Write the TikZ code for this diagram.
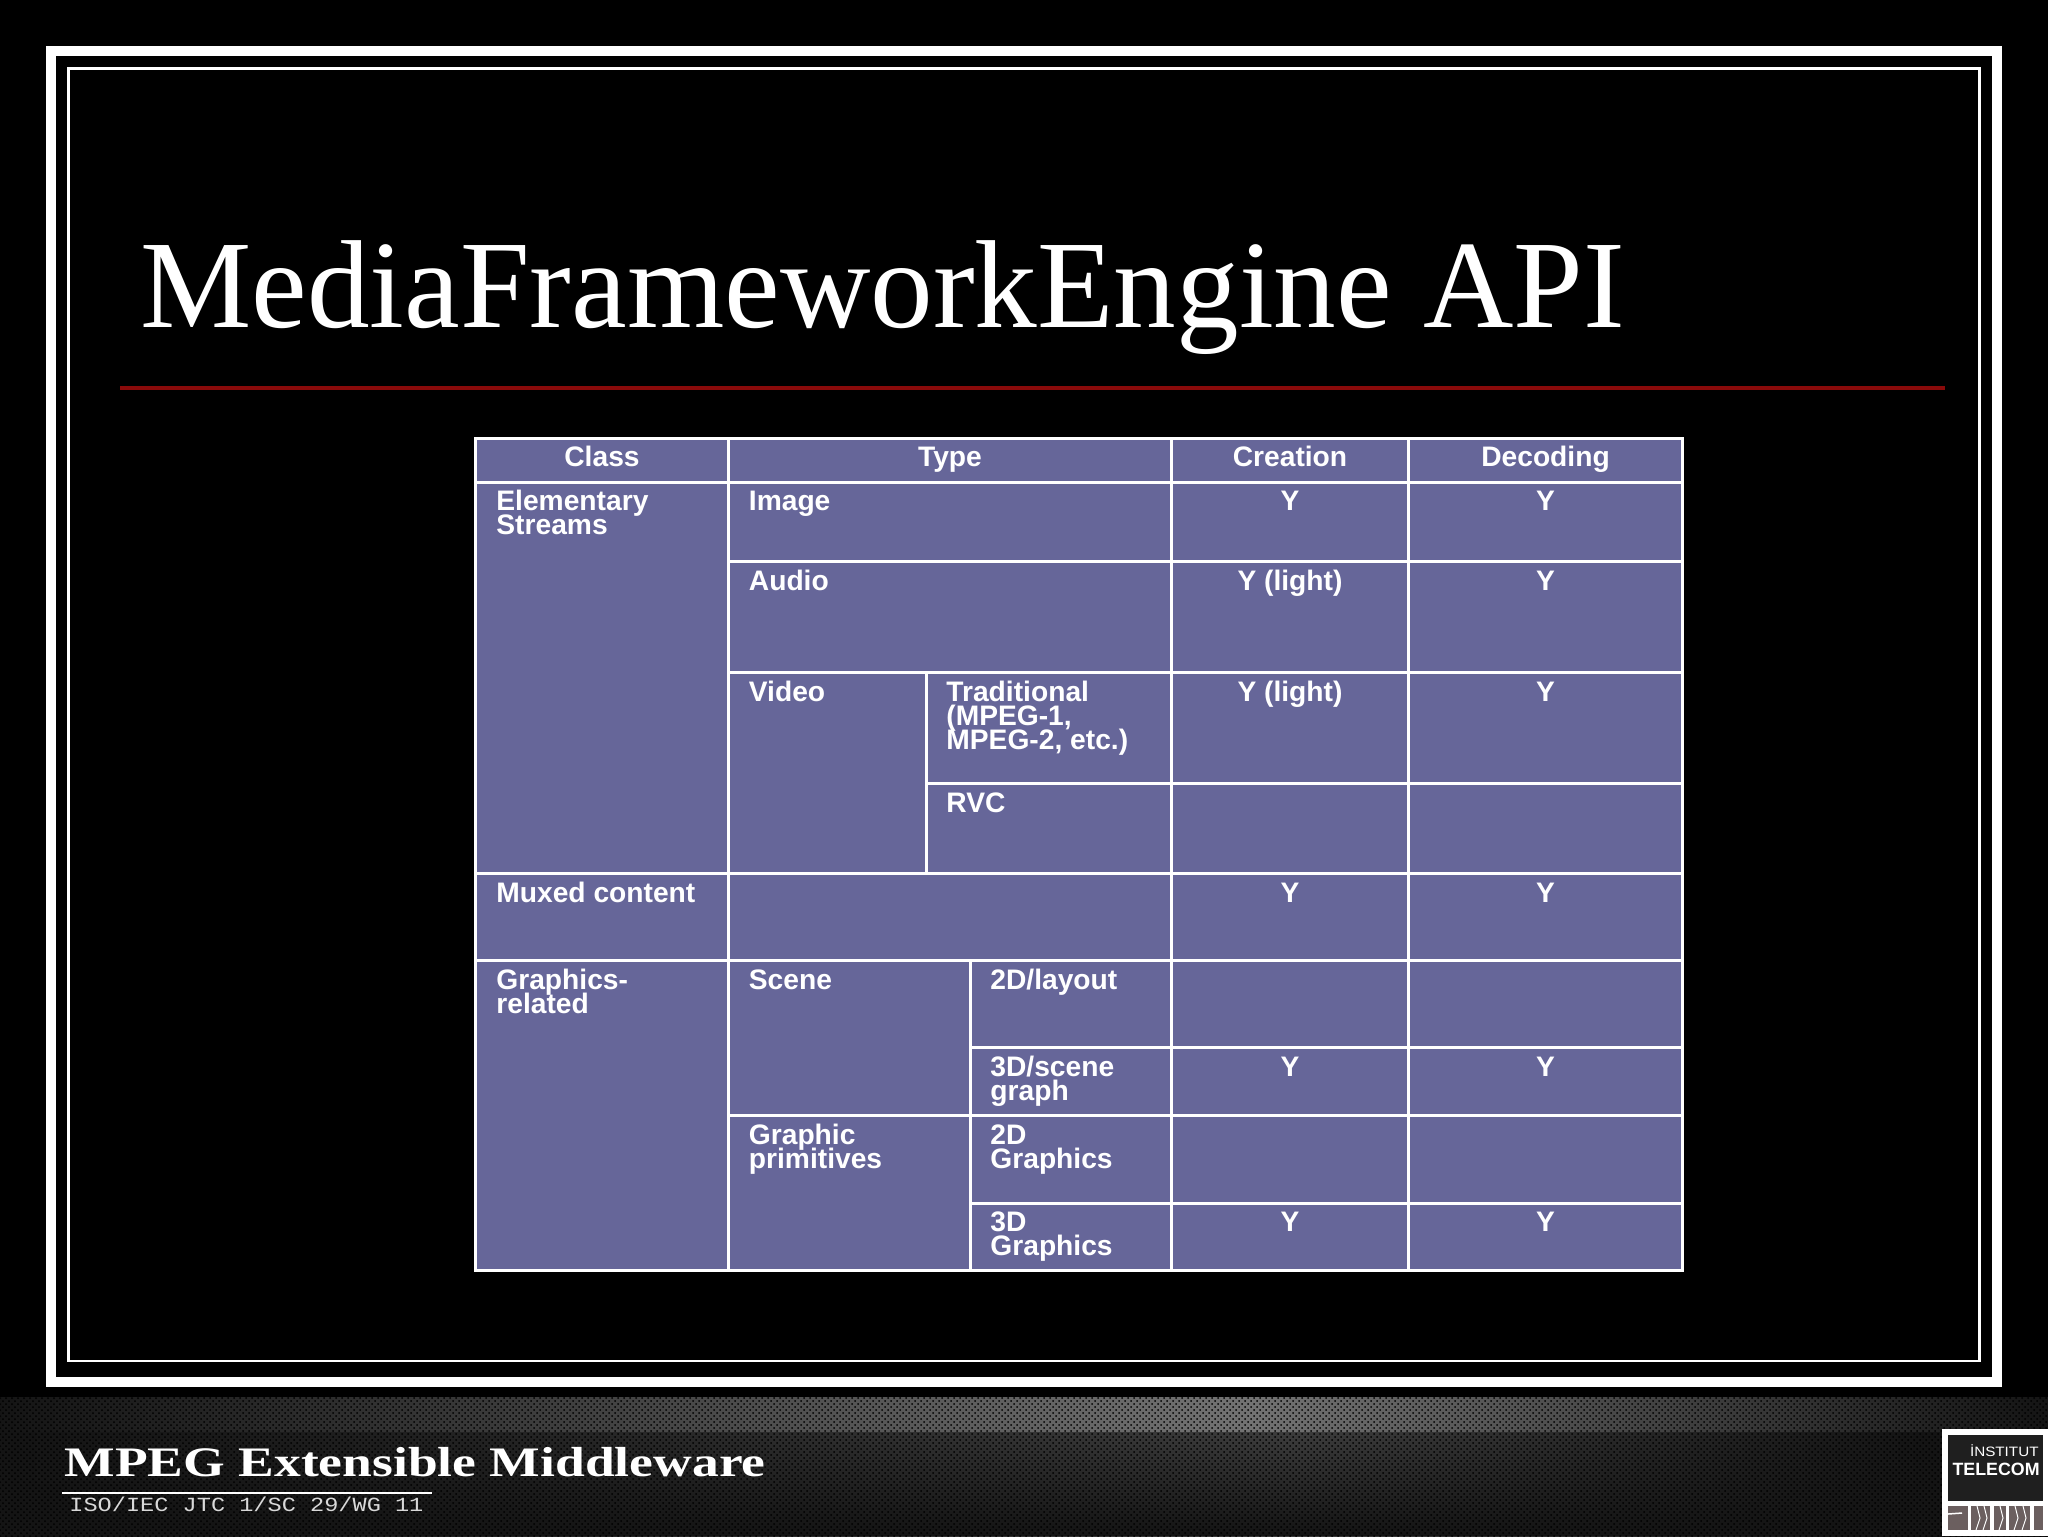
\documentclass[tikz,border=0pt]{standalone}
\usepackage{fontspec}
\setmainfont{Liberation Serif}
\setsansfont{Liberation Sans}
\setmonofont{Liberation Mono}
\usetikzlibrary{fadings,patterns,positioning}
\definecolor{cellblue}{HTML}{666699}
\definecolor{rulered}{HTML}{8A0A0A}
\definecolor{stampgrey}{HTML}{6B5F5F}
\tikzset{
gridline/.style={draw=white,line width=1.5pt},
celltext/.style={
  text=white,
  inner sep=0pt,
  align=left,
  font=\sffamily\bfseries\fontsize{14.1}{11.8}\selectfont
  },
lefttext/.style={celltext,anchor=north west},
midtext/.style={celltext,anchor=north}
}
\newcommand{\tallrow}{\rule{0pt}{11pt}}

\begin{document}
\begin{tikzpicture}[x=0.5pt,y=-0.5pt]
    \lineskiplimit=-20pt
    \useasboundingbox (0,0) rectangle (2048,1536);
    \fill[black] (0,0) rectangle (2048,1536);
    % frame
    \draw[white,line width=5pt] (51,51) rectangle (1997,1382);
    \draw[white,line width=1.25pt] (68.5,68.5) rectangle (1979.5,1361);
    % title
    \node[anchor=base west,inner sep=0pt,text=white,font=\fontsize{62.6}{70}\selectfont] (title) at (140,327) {MediaFrameworkEngine API};
    \draw[rulered,line width=1.75pt] (120,388) -- (1945,388);
    % table
    \fill[cellblue] (475.5,438) rectangle (1682,1270.5);
    \draw[gridline] (475.5,438) rectangle (1682,1270.5);
    \foreach \xa/\yy in {475.5/482,728/561.5,728/672.5,926/783.5,475.5/873,475.5/960.5,970/1047.5,728/1115.5,970/1203}
        \draw[gridline] (\xa,\yy) -- (1682,\yy);
    \foreach \xx/\ya/\yb in {728/438/1270.5,926/672.5/873,970/960.5/1270.5,1171/438/1270.5,1408/438/1270.5}
        \draw[gridline] (\xx,\ya) -- (\xx,\yb);
    % header row
    \foreach \nm/\xx/\txt in {hclass/602/Class,htype/950/Type,hcreate/1290/Creation,hdecode/1545.5/Decoding}
        \node[midtext] (\nm) at (\xx,444) {\tallrow\txt};
    % class and type cells
    \foreach \nm/\xx/\yy/\txt in {
        elem/496/482/{Elementary\\Streams},
        muxed/496/874/{Muxed content},
        gfx/496/961/{Graphics-\\related},
        image/748.5/482/Image,
        audio/748.5/562/Audio,
        video/748.5/673/Video,
        scene/748.5/961/Scene,
        prim/748.5/1115.5/{Graphic\\primitives},
        trad/946/673/{Traditional\\(MPEG-1,\\MPEG-2, etc.)},
        rvc/946/784/RVC,
        layout/990/961/{2D/layout},
        scenegraph/990/1048/{3D/scene\\graph},
        gfxtwo/990/1115.5/{2D\\Graphics},
        gfxthree/990/1203/{3D\\Graphics}}
        \node[lefttext] (\nm) at (\xx,\yy+6.5) {\tallrow\txt};
    % creation and decoding columns
    \foreach \nm/\yy/\txt in {cimage/482/Y,caudio/562/{Y (light)},ctrad/673/{Y (light)},cmux/874/Y,cscene/1048/Y,cthree/1203/Y}
        \node[midtext] (\nm) at (1290,\yy+6.5) {\tallrow\txt};
    \foreach \nm/\yy in {dimage/482,daudio/562,dtrad/673,dmux/874,dscene/1048,dthree/1203}
        \node[midtext] (\nm) at (1545.5,\yy+6.5) {\tallrow Y};
    % footer band
    \shade[left color=black!92!white,right color=black!76!white] (0,1431) rectangle (1300,1536);
    \shade[left color=black!76!white,right color=black!95!white] (1300,1431) rectangle (2048,1536);
    \fill[black!92!white,path fading=north] (0,1431) rectangle (2048,1536);
    \shade[left color=black!92!white,right color=black!55!white] (0,1397) rectangle (1250,1431);
    \shade[left color=black!55!white,right color=black!92!white] (1250,1397) rectangle (2048,1431);
    \fill[pattern=crosshatch dots,pattern color=black] (0,1397) rectangle (2048,1536);
    % footer texts
    \node[anchor=base west,inner sep=0pt,text=white,xscale=1.275,transform shape,font=\bfseries\fontsize{21}{24}\selectfont] (mxm) at (64,1476) {MPEG Extensible Middleware};
    \draw[white,line width=1pt] (62,1493) -- (432,1493);
    \node[anchor=base west,inner sep=0pt,text=black!15,yscale=.85,transform shape,font=\ttfamily\fontsize{11.8}{14}\selectfont] (wgroup) at (69,1511) {ISO/IEC JTC 1/SC 29/WG 11};
    % logo
    \fill[white] (1942,1429) rectangle (2048,1536);
    \fill[black!88!white] (1948,1435) rectangle (2043,1501);
    \node[anchor=base east,inner sep=0pt,text=white,xscale=1.12,transform shape,font=\sffamily\fontsize{6.8}{8}\selectfont] (institut) at (2039,1456.5) {İNSTITUT};
    \node[anchor=base east,inner sep=0pt,text=white,font=\sffamily\bfseries\fontsize{8.9}{10}\selectfont] (telecom) at (2040,1475) {TELECOM};
    \foreach \xa/\xb in {1948/1968,1971/1990,1994/2006,2009/2030,2034/2043}
        \fill[stampgrey] (\xa,1506) rectangle (\xb,1530);
    \draw[white,line width=.75pt] (1948,1514) -- (1962,1513);
    \foreach \xx in {1977,1984,2000,2015,2023}
        \draw[white,line width=.5pt] (\xx,1506) -- (\xx+3,1518) -- (\xx-1,1530);
\end{tikzpicture}
\end{document}
